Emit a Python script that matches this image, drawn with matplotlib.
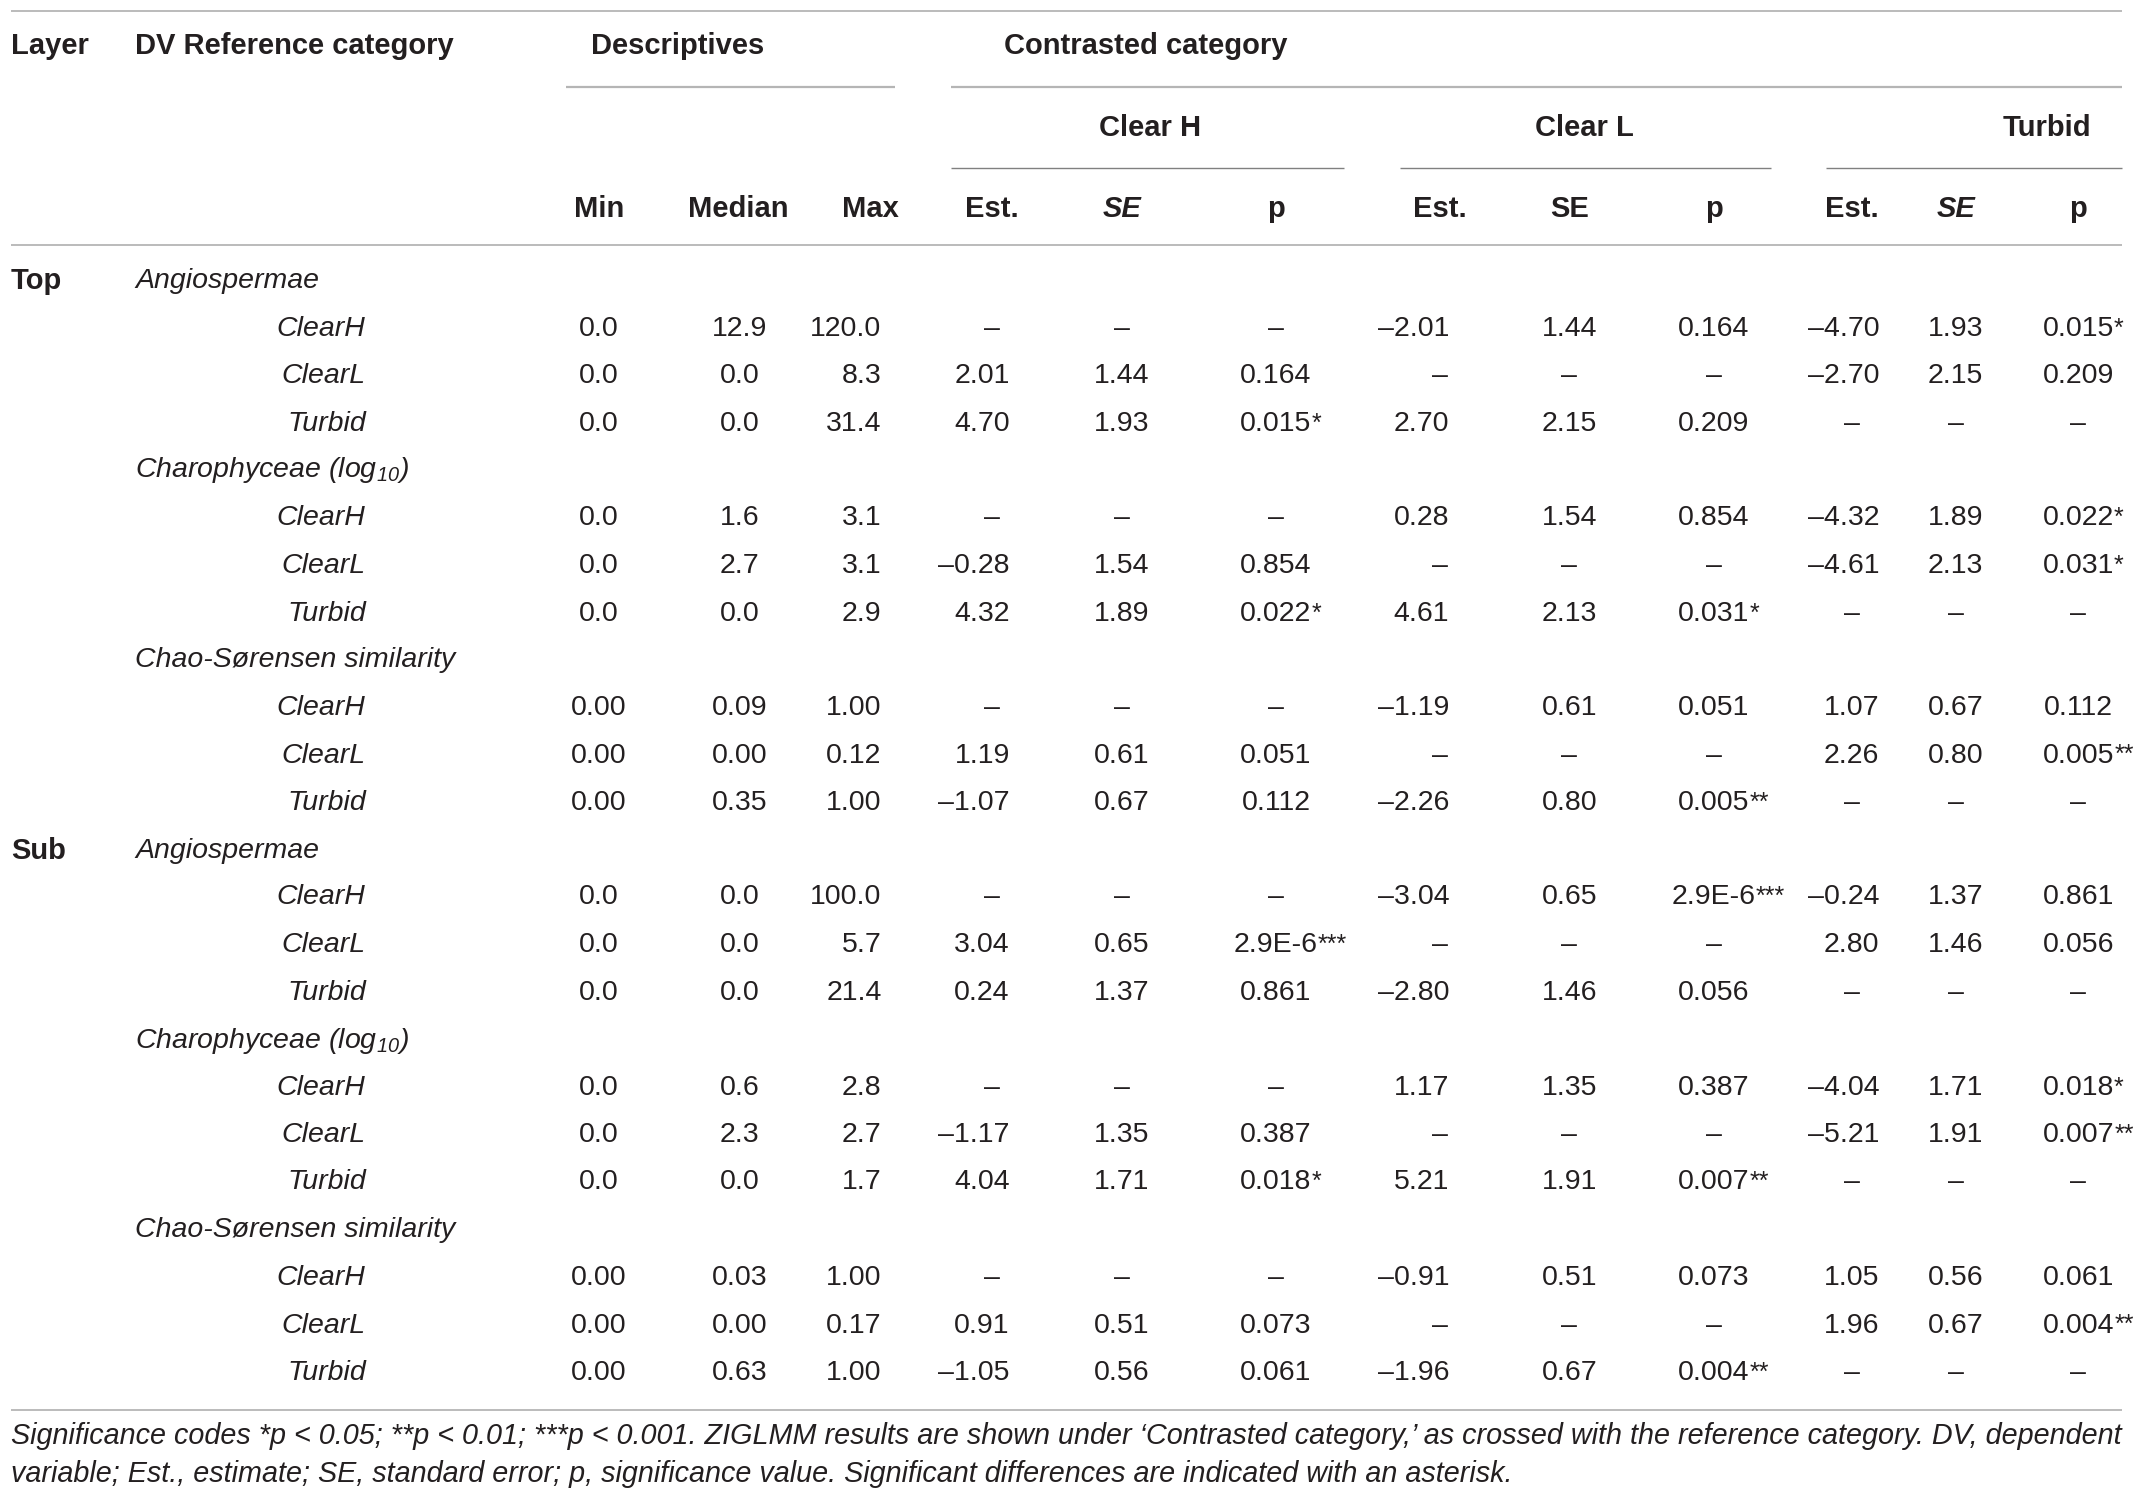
import matplotlib
matplotlib.use("Agg")
import matplotlib.pyplot as plt

plt.rcParams['font.family'] = ['Liberation Sans', 'DejaVu Sans']
plt.rcParams['mathtext.fontset'] = 'custom'
plt.rcParams['mathtext.rm'] = 'Liberation Sans'
plt.rcParams['mathtext.it'] = 'Liberation Sans:italic'

# ---- table data ----
layers = ["Top", "Sub"]
variables = ["Angiospermae", r"Charophyceae (log$_{\mathregular{10}}$)", "Chao-Sørensen similarity"]
categories = ["ClearH", "ClearL", "Turbid"]
contrast_groups = ["Clear H", "Clear L", "Turbid"]

min_vals = ["0.0", "0.0", "0.0", "0.0", "0.0", "0.0", "0.00", "0.00", "0.00",
            "0.0", "0.0", "0.0", "0.0", "0.0", "0.0", "0.00", "0.00", "0.00"]
median_vals = ["12.9", "0.0", "0.0", "1.6", "2.7", "0.0", "0.09", "0.00", "0.35",
               "0.0", "0.0", "0.0", "0.6", "2.3", "0.0", "0.03", "0.00", "0.63"]
max_vals = ["120.0", "8.3", "31.4", "3.1", "3.1", "2.9", "1.00", "0.12", "1.00",
            "100.0", "5.7", "21.4", "2.8", "2.7", "1.7", "1.00", "0.17", "1.00"]

# per row: (ClearH, ClearL, Turbid); None = reference equals contrast
est_vals = [
    (None, "–2.01", "–4.70"), ("2.01", None, "–2.70"), ("4.70", "2.70", None),
    (None, "0.28", "–4.32"), ("–0.28", None, "–4.61"), ("4.32", "4.61", None),
    (None, "–1.19", "1.07"), ("1.19", None, "2.26"), ("–1.07", "–2.26", None),
    (None, "–3.04", "–0.24"), ("3.04", None, "2.80"), ("0.24", "–2.80", None),
    (None, "1.17", "–4.04"), ("–1.17", None, "–5.21"), ("4.04", "5.21", None),
    (None, "–0.91", "1.05"), ("0.91", None, "1.96"), ("–1.05", "–1.96", None),
]
se_vals = [
    (None, "1.44", "1.93"), ("1.44", None, "2.15"), ("1.93", "2.15", None),
    (None, "1.54", "1.89"), ("1.54", None, "2.13"), ("1.89", "2.13", None),
    (None, "0.61", "0.67"), ("0.61", None, "0.80"), ("0.67", "0.80", None),
    (None, "0.65", "1.37"), ("0.65", None, "1.46"), ("1.37", "1.46", None),
    (None, "1.35", "1.71"), ("1.35", None, "1.91"), ("1.71", "1.91", None),
    (None, "0.51", "0.56"), ("0.51", None, "0.67"), ("0.56", "0.67", None),
]
p_vals = [
    (None, "0.164", "0.015"), ("0.164", None, "0.209"), ("0.015", "0.209", None),
    (None, "0.854", "0.022"), ("0.854", None, "0.031"), ("0.022", "0.031", None),
    (None, "0.051", "0.112"), ("0.051", None, "0.005"), ("0.112", "0.005", None),
    (None, "2.9E-6", "0.861"), ("2.9E-6", None, "0.056"), ("0.861", "0.056", None),
    (None, "0.387", "0.018"), ("0.387", None, "0.007"), ("0.018", "0.007", None),
    (None, "0.073", "0.061"), ("0.073", None, "0.004"), ("0.061", "0.004", None),
]
p_stars = [
    (None, "", "*"), ("", None, ""), ("*", "", None),
    (None, "", "*"), ("", None, "*"), ("*", "*", None),
    (None, "", ""), ("", None, "**"), ("", "**", None),
    (None, "***", ""), ("***", None, ""), ("", "", None),
    (None, "", "*"), ("", None, "**"), ("*", "**", None),
    (None, "", ""), ("", None, "**"), ("", "**", None),
]

footnote = ["Significance codes *p < 0.05; **p < 0.01; ***p < 0.001. ZIGLMM results are shown under "
            "\u2018Contrasted category,\u2019 as crossed with the reference category. DV, dependent",
            "variable; Est., estimate; SE, standard error; p, significance value. "
            "Significant differences are indicated with an asterisk."]

# ---- layout (reference pixel units, 1563 x 1097 grid) ----
W, H = 1563, 1097
TXT = "#231f20"
FS = 20.5
FS_HEAD = 21

fig = plt.figure(figsize=(21.33, 14.96), dpi=100)
ax = fig.add_axes([0, 0, 1, 1])
ax.set_xlim(0, W)
ax.set_ylim(H, 0)
ax.axis("off")

def t(x, y, s, ha="center", bold=False, italic=False, fs=None, **kw):
    if fs is None:
        fs = FS_HEAD if bold else FS
    return ax.text(x, y, s, ha=ha, va="center", fontsize=fs, color=TXT,
                   fontweight="bold" if bold else "normal",
                   fontstyle="italic" if italic else "normal", **kw)

def hline(x0, x1, y, color="#b5b5b5", lw=1.3):
    ax.plot([x0, x1], [y, y], color=color, lw=lw, solid_capstyle="butt")

# rules
hline(8, 1555, 8)
hline(8, 1555, 180)
hline(8, 1555, 1034)
hline(415, 656, 64, lw=1.6)
hline(697, 1555, 64, lw=1.6)
group_lines = [(697, 985), (1026, 1298), (1338, 1555)]
for x0, x1 in group_lines:
    hline(x0, x1, 123, color="#808080", lw=1.0)

# headers
t(8, 34, "Layer", ha="left", bold=True)
t(99, 34, "DV Reference category", ha="left", bold=True)
t(433, 34, "Descriptives", ha="left", bold=True)
t(736, 34, "Contrasted category", ha="left", bold=True)
for gx, g in zip([843, 1161, 1500], contrast_groups):
    t(gx, 94, g, bold=True)

t(439, 153, "Min", bold=True)
t(541, 153, "Median", bold=True)
t(638, 153, "Max", bold=True)

est_x = [740, 1062, 1377]       # right edges
est_dash = [727, 1055, 1357]
se_x = [822, 1150, 1433]
p_x = [935, 1256, 1523]
se_italic = [True, False, True]
for k in range(3):
    t(est_dash[k], 153, "Est.", bold=True)
    t(se_x[k], 153, "SE", bold=True, italic=se_italic[k])
    t(p_x[k], 153, "p", bold=True)

# body
row_y = [206, 241, 276, 311, 345, 380, 415, 450, 484, 519, 554, 589,
         624, 658, 693, 728, 763, 798, 832, 867, 902, 937, 972, 1007]

yi = 0
r = 0
for li, layer in enumerate(layers):
    t(8, row_y[yi], layer, ha="left", bold=True)
    for vi, var in enumerate(variables):
        t(99, row_y[yi], var, ha="left", italic=True)
        yi += 1
        for ci, cat in enumerate(categories):
            y = row_y[yi]
            t(268, y, cat, ha="right", italic=True)
            t(439, y, min_vals[r])
            t(542, y, median_vals[r])
            t(646, y, max_vals[r], ha="right")
            for k in range(3):
                if est_vals[r][k] is None:
                    t(est_dash[k], y, "–")
                    t(se_x[k], y, "–")
                    t(p_x[k], y, "–")
                else:
                    t(est_x[k], y, est_vals[r][k], ha="right")
                    t(se_x[k], y, se_vals[r][k])
                    pt = t(p_x[k], y, p_vals[r][k])
                    if p_stars[r][k]:
                        ax.annotate(p_stars[r][k], xy=(1, 0.97), xycoords=pt,
                                    ha="left", va="top", fontsize=18, color=TXT)
            yi += 1
            r += 1

# footnote, scaled to span the table width
fig.canvas.draw()
renderer = fig.canvas.get_renderer()
ft = t(8, 1053, footnote[0], ha="left", italic=True, fs=17)
width_px = ft.get_window_extent(renderer).width * W / fig.bbox.width
fs_fit = 17 * (1547 / width_px)
ft.set_fontsize(fs_fit)
t(8, 1081, footnote[1], ha="left", italic=True, fs=fs_fit)

fig.savefig("out.png", dpi=100)
